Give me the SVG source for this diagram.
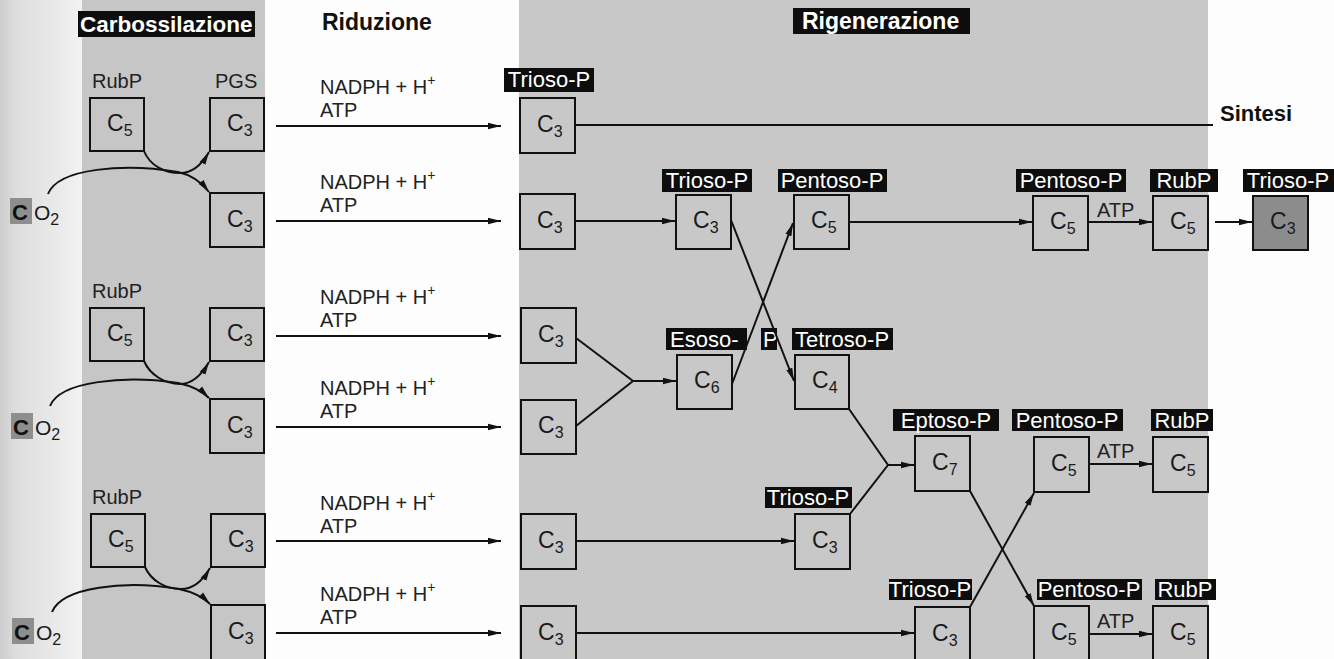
<svg xmlns="http://www.w3.org/2000/svg" width="1334" height="659" viewBox="0 0 1334 659">
<defs>
<linearGradient id="edge" x1="0" y1="0" x2="1" y2="0">
<stop offset="0" stop-color="#cdcdcd"/>
<stop offset="0.2" stop-color="#dedede"/>
<stop offset="0.8" stop-color="#ececec"/>
<stop offset="1" stop-color="#f3f3f3"/>
</linearGradient>
<marker id="ah" markerUnits="userSpaceOnUse" markerWidth="14" markerHeight="8" refX="13" refY="4" orient="auto">
<path d="M0,0.8 L13,4 L0,7.2 z" fill="#111"/>
</marker>
</defs>
<style>
.bx{fill:none;stroke:#111;stroke-width:2}
.dk{fill:#8c8c8c;stroke:#111;stroke-width:2}
.c{font-family:"Liberation Sans",Arial,sans-serif;font-size:23px;fill:#1a1a1a}
.sub{font-size:16px}
.lb{fill:#0d0d0d}
.lt{font-family:"Liberation Sans",Arial,sans-serif;font-size:22px;fill:#fff;text-anchor:middle}
.t{font-family:"Liberation Sans",Arial,sans-serif;font-size:20px;fill:#222}
.h{font-family:"Liberation Sans",Arial,sans-serif;font-weight:bold;fill:#111}
.ht{font-family:"Liberation Sans",Arial,sans-serif;font-weight:bold;fill:#fff}
.ln{fill:none;stroke:#111;stroke-width:2}
.ar{fill:none;stroke:#111;stroke-width:2;marker-end:url(#ah)}
</style>
<rect x="0" y="0" width="1334" height="659" fill="#fdfdfd"/>
<rect x="0" y="0" width="82" height="659" fill="url(#edge)"/>
<rect x="82" y="0" width="183" height="659" fill="#c6c6c6"/>
<rect x="519" y="0" width="689" height="659" fill="#c8c8c8"/>

<g id="headers">
<rect x="78" y="11" width="177" height="26" class="lb"/>
<text x="80" y="32" class="ht" font-size="22.5">Carbossilazione</text>
<text x="322" y="30" class="h" font-size="23">Riduzione</text>
<rect x="793" y="8" width="177" height="26" class="lb"/>
<text x="802" y="29" class="ht" font-size="23">Rigenerazione</text>
<text x="1220" y="121" class="h" font-size="22">Sintesi</text>
</g>

<g id="carb-labels">
<text x="92" y="88" class="t">RubP</text>
<text x="215" y="88" class="t">PGS</text>
<text x="92" y="298" class="t">RubP</text>
<text x="92" y="504" class="t">RubP</text>
</g>

<g id="co2-1"><rect x="10" y="198" width="22" height="26" fill="#8e8e8e"/><text x="12" y="220" class="h" font-size="22">C</text><text x="34" y="220" class="c" style="font-size:21px">O<tspan class="sub" dy="5">2</tspan></text></g>
<g id="co2-2"><rect x="11" y="413" width="22" height="26" fill="#8e8e8e"/><text x="13" y="435" class="h" font-size="22">C</text><text x="35" y="435" class="c" style="font-size:21px">O<tspan class="sub" dy="5">2</tspan></text></g>
<g id="co2-3"><rect x="12" y="618" width="22" height="26" fill="#8e8e8e"/><text x="14" y="640" class="h" font-size="22">C</text><text x="36" y="640" class="c" style="font-size:21px">O<tspan class="sub" dy="5">2</tspan></text></g>

<g id="rubp-1"><rect x="90" y="98" width="54" height="53" class="bx"/><text x="107" y="131" class="c">C<tspan class="sub" dy="5">5</tspan></text></g>
<g id="pgs-1a"><rect x="210" y="98" width="54" height="53" class="bx"/><text x="227" y="131" class="c">C<tspan class="sub" dy="5">3</tspan></text></g>
<g id="pgs-1b"><rect x="210" y="193" width="54" height="54" class="bx"/><text x="227" y="227" class="c">C<tspan class="sub" dy="5">3</tspan></text></g>
<g id="rubp-2"><rect x="90" y="308" width="54" height="53" class="bx"/><text x="107" y="341" class="c">C<tspan class="sub" dy="5">5</tspan></text></g>
<g id="pgs-2a"><rect x="210" y="308" width="54" height="53" class="bx"/><text x="227" y="341" class="c">C<tspan class="sub" dy="5">3</tspan></text></g>
<g id="pgs-2b"><rect x="210" y="399" width="54" height="54" class="bx"/><text x="227" y="433" class="c">C<tspan class="sub" dy="5">3</tspan></text></g>
<g id="rubp-3"><rect x="91" y="514" width="54" height="53" class="bx"/><text x="108" y="547" class="c">C<tspan class="sub" dy="5">5</tspan></text></g>
<g id="pgs-3a"><rect x="211" y="514" width="54" height="53" class="bx"/><text x="228" y="547" class="c">C<tspan class="sub" dy="5">3</tspan></text></g>
<g id="pgs-3b"><rect x="211" y="605" width="54" height="60" class="bx"/><text x="228" y="639" class="c">C<tspan class="sub" dy="5">3</tspan></text></g>

<g id="red-labels">
<text x="320" y="94" class="t" font-size="21">NADPH + H<tspan font-size="14" dy="-9">+</tspan></text>
<text x="320" y="117" class="t" font-size="21">ATP</text>
<text x="320" y="189" class="t" font-size="21">NADPH + H<tspan font-size="14" dy="-9">+</tspan></text>
<text x="320" y="212" class="t" font-size="21">ATP</text>
<text x="320" y="304" class="t" font-size="21">NADPH + H<tspan font-size="14" dy="-9">+</tspan></text>
<text x="320" y="327" class="t" font-size="21">ATP</text>
<text x="320" y="395" class="t" font-size="21">NADPH + H<tspan font-size="14" dy="-9">+</tspan></text>
<text x="320" y="418" class="t" font-size="21">ATP</text>
<text x="320" y="510" class="t" font-size="21">NADPH + H<tspan font-size="14" dy="-9">+</tspan></text>
<text x="320" y="533" class="t" font-size="21">ATP</text>
<text x="320" y="601" class="t" font-size="21">NADPH + H<tspan font-size="14" dy="-9">+</tspan></text>
<text x="320" y="624" class="t" font-size="21">ATP</text>
</g>

<g id="tp-1"><rect x="504" y="68" width="90" height="24" class="lb"/><text x="549" y="87" class="lt">Trioso-P</text><rect x="520" y="98" width="55" height="55" class="bx"/><text x="537" y="132" class="c">C<tspan class="sub" dy="5">3</tspan></text></g>
<g id="r2-c3"><rect x="520" y="194" width="55" height="55" class="bx"/><text x="537" y="228" class="c">C<tspan class="sub" dy="5">3</tspan></text></g>
<g id="r3-c3"><rect x="521" y="308" width="55" height="55" class="bx"/><text x="538" y="342" class="c">C<tspan class="sub" dy="5">3</tspan></text></g>
<g id="r4-c3"><rect x="521" y="400" width="55" height="54" class="bx"/><text x="538" y="433" class="c">C<tspan class="sub" dy="5">3</tspan></text></g>
<g id="r5-c3"><rect x="521" y="514" width="55" height="55" class="bx"/><text x="538" y="548" class="c">C<tspan class="sub" dy="5">3</tspan></text></g>
<g id="r6-c3"><rect x="521" y="606" width="55" height="60" class="bx"/><text x="538" y="640" class="c">C<tspan class="sub" dy="5">3</tspan></text></g>

<g id="trioso-a"><rect x="662" y="169" width="90" height="23" class="lb"/><text x="707" y="188" class="lt">Trioso-P</text><rect x="676" y="195" width="55" height="54" class="bx"/><text x="693" y="228" class="c">C<tspan class="sub" dy="5">3</tspan></text></g>
<g id="pentoso-a"><rect x="778" y="169" width="109" height="23" class="lb"/><text x="832" y="188" class="lt">Pentoso-P</text><rect x="794" y="195" width="55" height="54" class="bx"/><text x="811" y="228" class="c">C<tspan class="sub" dy="5">5</tspan></text></g>
<g id="pentoso-b"><rect x="1016" y="169" width="110" height="23" class="lb"/><text x="1071" y="188" class="lt">Pentoso-P</text><rect x="1033" y="196" width="55" height="54" class="bx"/><text x="1050" y="229" class="c">C<tspan class="sub" dy="5">5</tspan></text></g>
<g id="rubp-a"><rect x="1150" y="169" width="68" height="23" class="lb"/><text x="1184" y="188" class="lt">RubP</text><rect x="1153" y="196" width="55" height="54" class="bx"/><text x="1170" y="229" class="c">C<tspan class="sub" dy="5">5</tspan></text></g>
<g id="trioso-out"><rect x="1243" y="169" width="91" height="23" class="lb"/><text x="1288" y="188" class="lt">Trioso-P</text><rect x="1253" y="196" width="55" height="54" class="dk"/><text x="1270" y="229" class="c">C<tspan class="sub" dy="5">3</tspan></text></g>

<g id="esoso"><rect x="666" y="328" width="81" height="22" class="lb"/><rect x="761" y="328" width="16" height="22" class="lb"/><text x="670" y="347" class="lt" style="text-anchor:start">Esoso-<tspan x="763">P</tspan></text><rect x="677" y="355" width="55" height="54" class="bx"/><text x="694" y="388" class="c">C<tspan class="sub" dy="5">6</tspan></text></g>
<g id="tetroso"><rect x="792" y="328" width="101" height="22" class="lb"/><text x="842" y="347" class="lt">Tetroso-P</text><rect x="795" y="355" width="54" height="54" class="bx"/><text x="812" y="388" class="c">C<tspan class="sub" dy="5">4</tspan></text></g>
<g id="eptoso"><rect x="893" y="409" width="106" height="22" class="lb"/><text x="946" y="428" class="lt">Eptoso-P</text><rect x="915" y="436" width="55" height="55" class="bx"/><text x="932" y="470" class="c">C<tspan class="sub" dy="5">7</tspan></text></g>
<g id="pentoso-c"><rect x="1012" y="409" width="111" height="22" class="lb"/><text x="1067" y="428" class="lt">Pentoso-P</text><rect x="1034" y="437" width="55" height="55" class="bx"/><text x="1051" y="471" class="c">C<tspan class="sub" dy="5">5</tspan></text></g>
<g id="rubp-c"><rect x="1151" y="409" width="62" height="22" class="lb"/><text x="1182" y="428" class="lt">RubP</text><rect x="1153" y="437" width="55" height="55" class="bx"/><text x="1170" y="471" class="c">C<tspan class="sub" dy="5">5</tspan></text></g>
<g id="trioso-b"><rect x="765" y="487" width="87" height="21" class="lb"/><text x="808" y="505" class="lt">Trioso-P</text><rect x="795" y="514" width="55" height="55" class="bx"/><text x="812" y="548" class="c">C<tspan class="sub" dy="5">3</tspan></text></g>
<g id="trioso-c"><rect x="889" y="579" width="83" height="21" class="lb"/><text x="930" y="597" class="lt">Trioso-P</text><rect x="915" y="607" width="55" height="60" class="bx"/><text x="932" y="641" class="c">C<tspan class="sub" dy="5">3</tspan></text></g>
<g id="pentoso-d"><rect x="1037" y="579" width="105" height="21" class="lb"/><text x="1089" y="597" class="lt">Pentoso-P</text><rect x="1034" y="606" width="55" height="60" class="bx"/><text x="1051" y="640" class="c">C<tspan class="sub" dy="5">5</tspan></text></g>
<g id="rubp-d"><rect x="1155" y="579" width="61" height="21" class="lb"/><text x="1185" y="597" class="lt">RubP</text><rect x="1153" y="606" width="55" height="60" class="bx"/><text x="1170" y="640" class="c">C<tspan class="sub" dy="5">5</tspan></text></g>

<g id="atp-labels">
<text x="1097" y="217" class="t" font-size="19">ATP</text>
<text x="1097" y="458" class="t" font-size="19">ATP</text>
<text x="1097" y="628" class="t" font-size="19">ATP</text>
</g>

<g id="connectors">
<path class="ar" d="M144,151 C150,166 165,173 180,173 C192,173 201,166 209,152"/>
<path class="ar" d="M48,194 C58,168 125,163 178,172 C192,175 202,183 209,192"/>
<path class="ar" d="M144,361 C150,375 165,384 180,384 C192,384 201,376 209,362"/>
<path class="ar" d="M50,406 C60,381 125,375 178,383 C192,386 202,391 209,398"/>
<path class="ar" d="M145,567 C151,581 166,589 181,589 C193,589 202,582 210,568"/>
<path class="ar" d="M52,612 C62,587 125,580 179,589 C193,592 203,597 210,604"/>

<line class="ar" x1="276" y1="126" x2="501" y2="126"/>
<line class="ar" x1="276" y1="221" x2="501" y2="221"/>
<line class="ar" x1="276" y1="336" x2="501" y2="336"/>
<line class="ar" x1="276" y1="427" x2="501" y2="427"/>
<line class="ar" x1="276" y1="541" x2="501" y2="541"/>
<line class="ar" x1="276" y1="633" x2="501" y2="633"/>

<line class="ln" x1="575" y1="125" x2="1213" y2="125"/>
<line class="ar" x1="575" y1="221" x2="675" y2="221"/>
<line class="ar" x1="731" y1="220" x2="794" y2="381"/>
<line class="ar" x1="732" y1="384" x2="793" y2="223"/>
<line class="ar" x1="849" y1="222" x2="1032" y2="222"/>
<line class="ar" x1="1088" y1="222" x2="1152" y2="222"/>
<line class="ar" x1="1215" y1="222" x2="1252" y2="222"/>
<polyline class="ln" points="576,338 633,381 576,426"/>
<line class="ar" x1="633" y1="381" x2="676" y2="381"/>
<polyline class="ln" points="849,409 888,465 850,514"/>
<line class="ar" x1="888" y1="465" x2="914" y2="465"/>
<line class="ar" x1="576" y1="541" x2="794" y2="541"/>
<line class="ar" x1="576" y1="633" x2="914" y2="633"/>
<line class="ar" x1="970" y1="491" x2="1034" y2="606"/>
<line class="ar" x1="970" y1="607" x2="1034" y2="493"/>
<line class="ar" x1="1089" y1="464" x2="1152" y2="464"/>
<line class="ar" x1="1089" y1="634" x2="1152" y2="634"/>
</g>
</svg>
